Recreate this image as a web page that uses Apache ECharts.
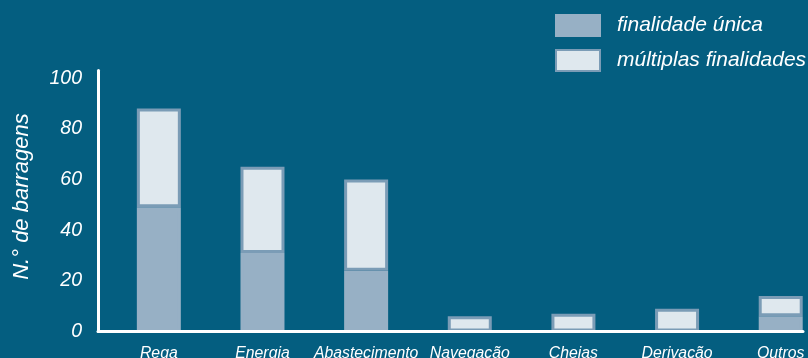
<!DOCTYPE html>
<html>
<head>
<meta charset="utf-8">
<script src="https://cdn.jsdelivr.net/npm/echarts@6/dist/echarts.min.js"></script>
<style>
html,body{margin:0;padding:0;background:#045e80;}
#chart{width:808px;height:358px;}
</style>
</head>
<body>
<div id="chart"></div>
<script>
const categories = ['Rega', 'Energia', 'Abastecimento', 'Navegação', 'Cheias', 'Derivação', 'Outros'];
const singlePurpose = [49, 31, 24, 0, 0, 0, 6];
const multiPurpose = [39, 34, 36, 6, 7, 9, 8];
const yTicks = [0, 20, 40, 60, 80, 100];
const seriesNames = ['finalidade única', 'múltiplas finalidades'];
const axisName = 'N.° de barragens';

const font = 'Liberation Sans';
const chart = echarts.init(document.getElementById('chart'), null, {renderer: 'canvas'});
const idx = categories.map((c, i) => i);

chart.setOption({
  backgroundColor: '#045e80',
  animation: false,
  legend: {
    orient: 'vertical',
    left: 555,
    top: 14,
    padding: 0,
    itemWidth: 44,
    itemHeight: 21,
    itemGap: 12,
    icon: 'rect',
    data: seriesNames,
    textStyle: {color: '#ffffff', fontSize: 21, fontStyle: 'italic', fontFamily: font, padding: [0, 0, 0, 12]}
  },
  grid: {left: 98, right: 5, top: 70.5, bottom: 26.5, containLabel: false, outerBoundsMode: 'none'},
  xAxis: {
    type: 'value',
    min: -0.587,
    max: 6.215,
    z: 5,
    splitLine: {show: false},
    axisTick: {show: false},
    axisLine: {show: true, onZero: false, lineStyle: {color: '#ffffff', width: 3}},
    axisLabel: {
      customValues: idx,
      formatter: v => categories[Math.round(v)] || '',
      color: '#ffffff', fontSize: 15.8, fontStyle: 'italic', fontFamily: font, margin: 14
    }
  },
  yAxis: {
    type: 'value',
    min: 0,
    max: 103,
    interval: 20,
    z: 5,
    name: axisName,
    nameLocation: 'middle',
    nameGap: 65,
    nameTextStyle: {color: '#ffffff', fontSize: 22, fontStyle: 'italic', fontFamily: font, padding: [0, 0, 0, 9]},
    splitLine: {show: false},
    axisTick: {show: false},
    axisLine: {show: true, onZero: false, lineStyle: {color: '#ffffff', width: 3}},
    axisLabel: {
      showMaxLabel: false,
      color: '#ffffff', fontSize: 19.5, fontStyle: 'italic', fontFamily: font, margin: 16
    }
  },
  series: [
    {
      name: seriesNames[0],
      type: 'bar',
      stack: 'total',
      barWidth: 44,
      encode: {x: 1, y: 0},
      itemStyle: {color: '#97b0c5', borderColor: '#97b0c5', borderWidth: 3},
      data: singlePurpose.map((v, i) => [v, i])
    },
    {
      name: seriesNames[1],
      type: 'bar',
      stack: 'total',
      barWidth: 44,
      encode: {x: 1, y: 0},
      itemStyle: {color: '#dfe8ee', borderColor: '#7b9cb6', borderWidth: 3},
      data: multiPurpose.map((v, i) => [v, i])
    }
  ]
});
</script>
</body>
</html>
